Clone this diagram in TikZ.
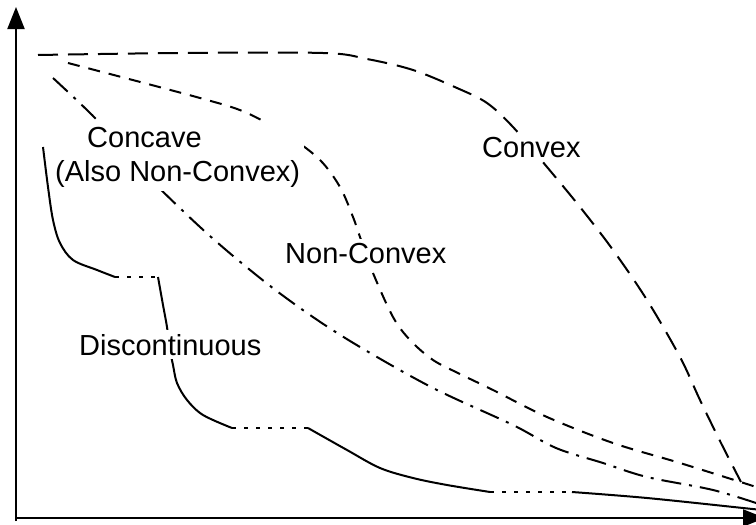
\documentclass[tikz,border=0pt]{standalone}
\usepackage{fontspec}
\setmainfont{Liberation Sans}
\usetikzlibrary{arrows.meta}
\begin{document}
\begin{tikzpicture}[x=1pt,y=-1pt,
  axis/.style={line width=2pt, -{Triangle[length=22pt,width=17pt]}},
  curve/.style={line width=2pt},
  convexline/.style={curve, dash pattern=on 20pt off 10pt},
  nonconvexline/.style={curve, dash pattern=on 12pt off 9pt},
  concaveline/.style={curve, dash pattern=on 20pt off 8pt on 3pt off 8pt},
  gapline/.style={curve, dash pattern=on 4pt off 8pt},
  lbl/.style={font=\fontsize{29}{34}\selectfont, fill=white, inner sep=4pt, anchor=base west}]
\useasboundingbox (0,0) rectangle (756,525);
\clip (0,0) rectangle (756,525);

% axes
\coordinate (O) at (16,518);
\coordinate (ytop) at (16,7);
\coordinate (xend) at (765,518);
\draw[axis] ([yshift=-3pt]O) -- (ytop);
\draw[axis] (O) -- (xend);

% convex front
\draw[convexline] plot[smooth, tension=0.55] coordinates {
  (38,55) (180,53) (323,53) (367,59) (413,70) (457,88) (487,103) (513,127)
  (547,167) (580,207) (613,250) (647,300) (680,357) (700,400) (721,443) (741,482)};

% non-convex front
\draw[nonconvexline] plot[smooth, tension=0.55] coordinates {
  (68,63) (200,98) (247,113) (290,137) (320,160) (340,187) (353,217) (360,237)
  (373,273) (393,317) (410,340) (433,360) (460,374) (493,390) (547,417)
  (613,443) (680,463) (750,485) (762,489)};

% concave front
\draw[concaveline] plot[smooth, tension=0.55] coordinates {
  (53,78) (97,120) (123,152) (200,227) (260,278) (310,315) (360,347)
  (433,388) (513,425) (556,448) (603,463) (647,477) (713,490) (762,505)};

% discontinuous front: solid pieces joined by dotted gaps
\coordinate (d1) at (115,277);
\coordinate (d2) at (158,277);
\coordinate (d3) at (232,428);
\coordinate (d4) at (308,428);
\coordinate (d5) at (490,492);
\coordinate (d6) at (572,492);
\draw[curve] plot[smooth, tension=0.55] coordinates {
  (43,147) (48,187) (53,220) (60,243) (73,260) (97,270) (115,277)};
\draw[gapline] (d1) -- (d2);
\draw[curve] plot[smooth, tension=0.55] coordinates {
  (158,277) (163,305) (167,327) (170,350) (173,365) (177,383) (187,400)
  (203,415) (232,428)};
\draw[gapline] (d3) -- (d4);
\draw[curve] plot[smooth, tension=0.55] coordinates {
  (308,428) (347,450) (380,468) (413,478) (447,485) (490,492)};
\draw[gapline] (d5) -- (d6);
\draw[curve] plot[smooth, tension=0.55] coordinates {
  (572,492) (647,498) (743,508) (762,510)};

% labels
\node[lbl] (convex) at (478,157) {Convex};
\node[lbl] (nonconvex) at (281,263) {Non-Convex};
\node[lbl] (discont) at (75,355) {Discontinuous};
\node[lbl, align=left] (concave) at (51,181) {\hspace*{32pt}Concave\\(Also Non-Convex)};
\end{tikzpicture}
\end{document}
